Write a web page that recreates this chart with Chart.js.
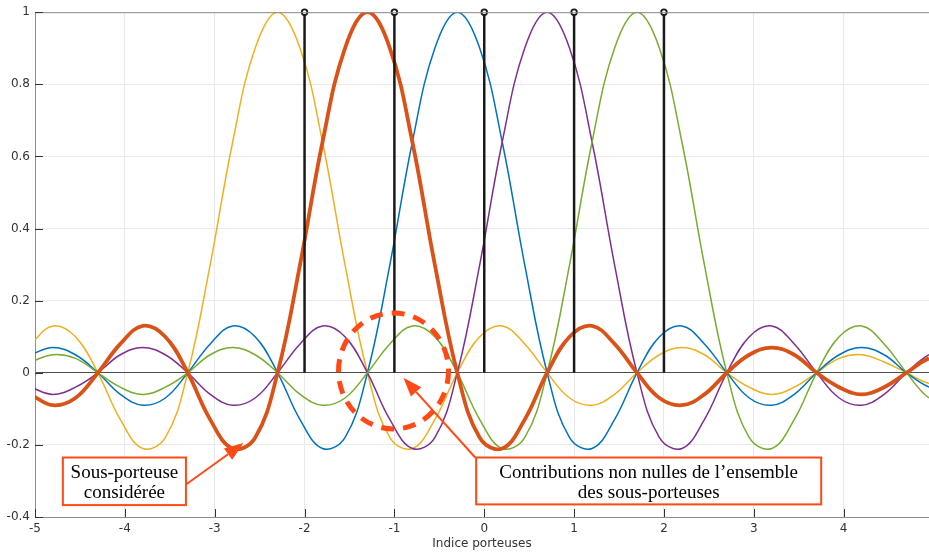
<!DOCTYPE html>
<html lang="fr">
<head>
<meta charset="utf-8">
<title>Sous-porteuses</title>
<script src="https://cdn.jsdelivr.net/npm/chart.js@4.4.1/dist/chart.umd.min.js"></script>
<style>
  html, body { margin: 0; padding: 0; background: #fff; }
  #wrap { width: 929px; height: 553px; }
</style>
</head>
<body>
<div id="wrap"><canvas id="graphe" width="929" height="553"></canvas></div>
<script>
// abscisses communes (pas de 0.25)
const xGrid = [-5.05, -4.8, -4.55, -4.3, -4.05, -3.8, -3.55, -3.3, -3.05, -2.8, -2.55, -2.3, -2.05, -1.8, -1.55, -1.3, -1.05, -0.8, -0.55, -0.3, -0.05, 0.2, 0.45, 0.7, 0.95, 1.2, 1.45, 1.7, 1.95, 2.2, 2.45, 2.7, 2.95, 3.2, 3.45, 3.7, 3.95, 4.2, 4.45, 4.7, 4.95, 5.2];

// sous-porteuses
const jaune = [0.08, 0.13, 0.10, 0, -0.13, -0.21, -0.18, 0, 0.30, 0.64, 0.90, 1, 0.90, 0.64, 0.30, 0, -0.18, -0.21, -0.13, 0, 0.10, 0.13, 0.08, 0, -0.07, -0.09, -0.06, 0, 0.05, 0.07, 0.05, 0, -0.04, -0.06, -0.04, 0, 0.04, 0.05, 0.03, 0, -0.03, -0.04];
const orange = [-0.06, -0.09, -0.07, 0, 0.08, 0.13, 0.10, 0, -0.13, -0.21, -0.18, 0, 0.30, 0.64, 0.90, 1, 0.90, 0.64, 0.30, 0, -0.18, -0.21, -0.13, 0, 0.10, 0.13, 0.08, 0, -0.07, -0.09, -0.06, 0, 0.05, 0.07, 0.05, 0, -0.04, -0.06, -0.04, 0, 0.04, 0.05];
const bleu = [0.05, 0.07, 0.05, 0, -0.06, -0.09, -0.07, 0, 0.08, 0.13, 0.10, 0, -0.13, -0.21, -0.18, 0, 0.30, 0.64, 0.90, 1, 0.90, 0.64, 0.30, 0, -0.18, -0.21, -0.13, 0, 0.10, 0.13, 0.08, 0, -0.07, -0.09, -0.06, 0, 0.05, 0.07, 0.05, 0, -0.04, -0.06];
const violet = [-0.04, -0.06, -0.04, 0, 0.05, 0.07, 0.05, 0, -0.06, -0.09, -0.07, 0, 0.08, 0.13, 0.10, 0, -0.13, -0.21, -0.18, 0, 0.30, 0.64, 0.90, 1, 0.90, 0.64, 0.30, 0, -0.18, -0.21, -0.13, 0, 0.10, 0.13, 0.08, 0, -0.07, -0.09, -0.06, 0, 0.05, 0.07];
const vert = [0.03, 0.05, 0.04, 0, -0.04, -0.06, -0.04, 0, 0.05, 0.07, 0.05, 0, -0.06, -0.09, -0.07, 0, 0.08, 0.13, 0.10, 0, -0.13, -0.21, -0.18, 0, 0.30, 0.64, 0.90, 1, 0.90, 0.64, 0.30, 0, -0.18, -0.21, -0.13, 0, 0.10, 0.13, 0.08, 0, -0.07, -0.09];

// instants d'échantillonnage (tiges noires)
const stemX = [-2, -1, 0, 1, 2];
const stemY = [1, 1, 1, 1, 1];

const rouge = '#ff4a17';

const points = (vals) => vals.map((v, i) => ({ x: xGrid[i], y: v }));

const tiges = [];
stemX.forEach((sx, i) => {
    tiges.push({ x: sx, y: 0 }, { x: sx, y: stemY[i] }, { x: sx, y: null });
});

const courbe = (vals, couleur, epaisseur) => ({
    data: points(vals),
    borderColor: couleur,
    borderWidth: epaisseur,
    pointRadius: 0,
    tension: 0.4,
    fill: false
});

const fleche = (ctx, x1, y1, x2, y2) => {
    const ang = Math.atan2(y2 - y1, x2 - x1);
    const L = 19, W = 7;
    const bx = x2 - L * Math.cos(ang), by = y2 - L * Math.sin(ang);
    ctx.beginPath();
    ctx.moveTo(x1, y1);
    ctx.lineTo(bx, by);
    ctx.stroke();
    ctx.beginPath();
    ctx.moveTo(x2, y2);
    ctx.lineTo(bx + W * Math.sin(ang), by - W * Math.cos(ang));
    ctx.lineTo(bx - W * Math.sin(ang), by + W * Math.cos(ang));
    ctx.closePath();
    ctx.fill();
};

const boite = (ctx, x1, y1, x2, y2, lignes) => {
    ctx.fillStyle = '#fff';
    ctx.fillRect(x1, y1, x2 - x1, y2 - y1);
    ctx.strokeRect(x1, y1, x2 - x1, y2 - y1);
    ctx.fillStyle = '#000';
    ctx.font = '19px "Liberation Serif", "Times New Roman", serif';
    ctx.textAlign = 'center';
    ctx.textBaseline = 'middle';
    const cx = (x1 + x2) / 2;
    const h = (y2 - y1) / (lignes.length + 0.4);
    lignes.forEach((t, i) => ctx.fillText(t, cx, y1 + 2 + h * (i + 0.7)));
};

// cadre, graduations internes et annotations
const annotations = {
    id: 'annotations',
    afterDatasetsDraw(chart) {
        const { ctx, chartArea: a, scales: { x, y } } = chart;
        ctx.save();
        ctx.setLineDash([]);
        ctx.lineWidth = 1;
        ctx.strokeStyle = '#8c8c8c';
        ctx.beginPath();
        ctx.moveTo(a.left, a.top + 0.5);
        ctx.lineTo(a.right, a.top + 0.5);
        ctx.stroke();

        ctx.strokeStyle = '#333';
        y.ticks.forEach(t => {
            const py = Math.round(y.getPixelForValue(t.value)) + 0.5;
            ctx.beginPath();
            ctx.moveTo(a.left, py);
            ctx.lineTo(a.left + 8, py);
            ctx.stroke();
        });
        x.ticks.forEach(t => {
            const px = Math.round(x.getPixelForValue(t.value)) + 0.5;
            ctx.beginPath();
            ctx.moveTo(px, a.bottom);
            ctx.lineTo(px, a.bottom - 8);
            ctx.stroke();
        });

        // ellipse pointillée
        ctx.strokeStyle = rouge;
        ctx.fillStyle = rouge;
        ctx.lineWidth = 5;
        ctx.setLineDash([13, 9]);
        ctx.beginPath();
        ctx.ellipse(x.getPixelForValue(-1.01), y.getPixelForValue(0.005), 55, 58, 0, 0, Math.PI * 2);
        ctx.stroke();
        ctx.setLineDash([]);

        // flèches
        ctx.lineWidth = 2;
        fleche(ctx, x.getPixelForValue(-0.10), y.getPixelForValue(-0.235), x.getPixelForValue(-0.90), y.getPixelForValue(-0.014));
        fleche(ctx, x.getPixelForValue(-3.32), y.getPixelForValue(-0.31), x.getPixelForValue(-2.68), y.getPixelForValue(-0.195));

        // boîtes de texte
        ctx.lineWidth = 2;
        ctx.strokeStyle = rouge;
        boite(ctx, x.getPixelForValue(-4.69), y.getPixelForValue(-0.235), x.getPixelForValue(-3.32), y.getPixelForValue(-0.367),
            ['Sous-porteuse', 'considérée']);
        ctx.strokeStyle = rouge;
        boite(ctx, x.getPixelForValue(-0.09), y.getPixelForValue(-0.235), x.getPixelForValue(3.75), y.getPixelForValue(-0.365),
            ['Contributions non nulles de l’ensemble', 'des sous-porteuses']);
        ctx.restore();
    }
};

const police = { family: '"DejaVu Sans", sans-serif', size: 12 };

new Chart(document.getElementById('graphe'), {
    type: 'line',
    data: {
        datasets: [
            {
                data: tiges,
                borderColor: '#1a1a1a',
                borderWidth: 2.5,
                spanGaps: false,
                clip: false,
                tension: 0,
                pointRadius: (c) => (c.raw && c.raw.y === 1 ? 2.8 : 0),
                pointBackgroundColor: '#fff',
                pointBorderColor: '#1a1a1a',
                pointBorderWidth: 1.8
            },
            courbe(orange, '#d95319', 3.8),
            courbe(vert, '#77ac30', 1.5),
            courbe(violet, '#7e2f8e', 1.5),
            courbe(bleu, '#0072bd', 1.5),
            courbe(jaune, '#edb120', 1.5)
        ]
    },
    options: {
        responsive: false,
        animation: false,
        layout: { padding: { top: 10, right: 0, left: 0, bottom: 0 } },
        plugins: {
            legend: { display: false },
            tooltip: { enabled: false }
        },
        scales: {
            x: {
                type: 'linear',
                min: -5,
                max: 4.95,
                afterFit: (s) => { s.height = 36; },
                ticks: {
                    stepSize: 1,
                    includeBounds: false,
                    maxRotation: 0,
                    padding: 5,
                    color: '#333',
                    font: police
                },
                grid: { color: '#e9e9e9', drawTicks: false },
                border: { display: true, color: '#8c8c8c' },
                title: {
                    display: true,
                    text: 'Indice porteuses',
                    color: '#333',
                    font: police,
                    padding: { top: 0, bottom: 2 }
                }
            },
            y: {
                min: -0.4,
                max: 1,
                afterFit: (s) => { s.width = 35; },
                ticks: {
                    stepSize: 0.2,
                    padding: 5,
                    color: '#333',
                    font: police,
                    callback: (v) => String(Math.round(v * 10) / 10)
                },
                grid: {
                    color: (c) => (c.tick && Math.abs(c.tick.value) < 1e-9 ? '#4d4d4d' : '#e9e9e9'),
                    drawTicks: false
                },
                border: { display: true, color: '#8c8c8c' }
            }
        }
    },
    plugins: [annotations]
});
</script>
</body>
</html>
